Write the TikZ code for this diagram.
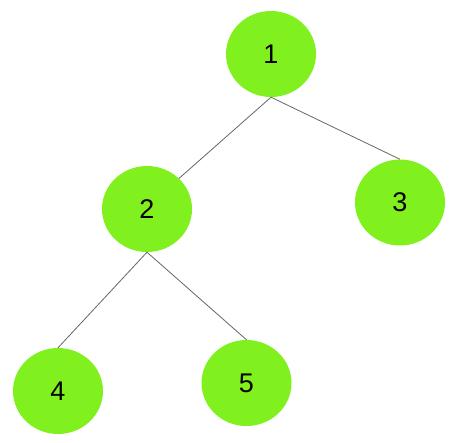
\documentclass[tikz,border=0pt]{standalone}
\usepackage{fontspec}
\setmainfont{Liberation Sans}
\usetikzlibrary{shapes.geometric}
\definecolor{leafgreen}{RGB}{128,240,30}
\begin{document}
\begin{tikzpicture}[x=1pt,y=-1pt,
  vertex/.style={ellipse,fill=leafgreen,minimum width=90pt,minimum height=86pt,inner sep=0pt,font=\fontsize{27}{32}\selectfont},
  edge/.style={draw=black!60,line width=.8pt}]
\useasboundingbox (0,0) rectangle (457,442);
\node[vertex] (n1) at (271,54) {1};
\node[vertex] (n2) at (147,209) {2};
\node[vertex] (n3) at (400,202.5) {3};
\node[vertex] (n4) at (58,391) {4};
\node[vertex] (n5) at (246.5,383) {5};
\draw[edge] (n1.south)--(n2.north east);
\draw[edge] (n1.south)--(n3.north);
\draw[edge] (n2.south)--(n4.north);
\draw[edge] (n2.south)--(n5.north);
\end{tikzpicture}
\end{document}
